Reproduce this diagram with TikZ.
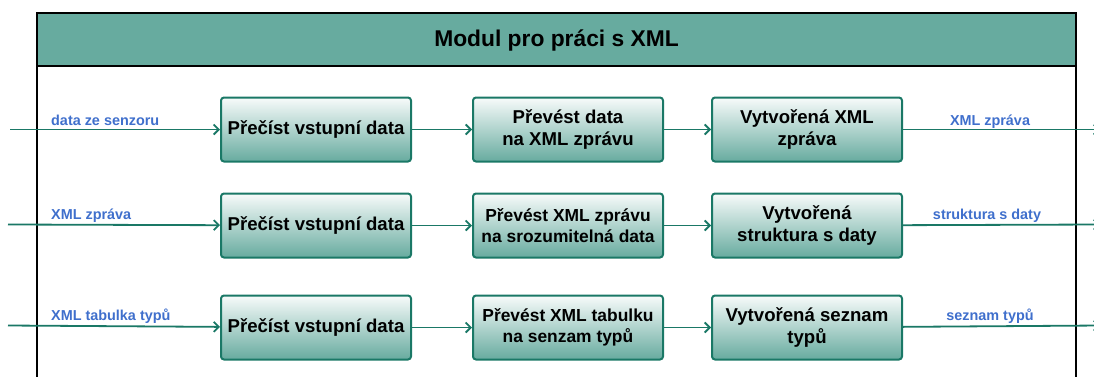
\documentclass[tikz,border=0pt]{standalone}
\usepackage{fontspec}
\setmainfont{Liberation Sans}
\usepackage{tikz}
\usetikzlibrary{arrows.meta, positioning}

\definecolor{modteal}{HTML}{67AB9F}
\definecolor{linegreen}{HTML}{1A7866}
\definecolor{labelblue}{HTML}{3F6FCC}

\begin{document}
\begin{tikzpicture}[
  x=1pt, y=-1pt,
  stepbox/.style = {draw=linegreen, line width=2pt, rounded corners=3pt,
    top color=white!95!modteal, bottom color=modteal,
    minimum width=190pt, minimum height=64pt, align=center,
    font=\fontsize{18.6}{22}\selectfont\bfseries},
  smalltext/.style = {font=\fontsize{17.4}{20.5}\selectfont\bfseries},
  flow/.style = {draw=linegreen, line width=1.8pt, -{Straight Barb[length=5pt,width=10pt]}},
  flowlabel/.style = {text=labelblue, font=\fontsize{14.4}{17}\selectfont\bfseries, inner sep=0pt},
  node distance=30pt and 60pt
]
  \useasboundingbox (0,0) rectangle (1094,376);

  % module frame with its title
  \filldraw[fill=modteal, draw=black, line width=1.8pt] (37,13) rectangle (1076,66);
  \draw[black, line width=1.8pt] (37,66) -- (37,385) (1076,66) -- (1076,385);
  \node[font=\fontsize{22.8}{26}\selectfont\bfseries] (title) at (556.5,40) {Modul pro práci s XML};

  % row 1
  \node[stepbox] (read1) at (316,129.5) {Přečíst vstupní data};
  \node[stepbox, right=60pt of read1] (conv1) {Převést data\\na XML zprávu};
  \node[stepbox, right=47pt of conv1] (out1) {Vytvořená XML\\zpráva};

  % row 2
  \node[stepbox, below=30pt of read1] (read2) {Přečíst vstupní data};
  \node[stepbox, smalltext, right=60pt of read2] (conv2) {Převést XML zprávu\\na srozumitelná data};
  \node[stepbox, right=47pt of conv2] (out2) {Vytvořená\\struktura s daty};

  % row 3
  \node[stepbox, below=36pt of read2] (read3) {Přečíst vstupní data};
  \node[stepbox, smalltext, right=60pt of read3] (conv3) {Převést XML tabulku\\na senzam typů};
  \node[stepbox, right=47pt of conv3] (out3) {Vytvořená seznam\\typů};

  % free ends of the connectors
  \coordinate (in1) at (10,129.5);
  \coordinate (in2) at (8,224.5);
  \coordinate (in3) at (8,325.5);
  \coordinate (end1) at (1100,129.5);
  \coordinate (end2) at (1100,224.5);
  \coordinate (end3) at (1100,325.5);

  \foreach \r in {1,2,3} {
    \draw[flow] (in\r) -- (read\r);
    \draw[flow] (read\r) -- (conv\r);
    \draw[flow] (conv\r) -- (out\r);
    \draw[flow] (out\r) -- (end\r);
  }

  % labels on the connectors
  \node[flowlabel, anchor=base west] (lin1) at (51,125) {data ze senzoru};
  \node[flowlabel, anchor=base west] (lin2) at (51,219) {XML zpráva};
  \node[flowlabel, anchor=base west] (lin3) at (51,320) {XML tabulka typů};
  \node[flowlabel, anchor=base] (lout1) at (990,125) {XML zpráva};
  \node[flowlabel, anchor=base] (lout2) at (987,219) {struktura s daty};
  \node[flowlabel, anchor=base] (lout3) at (990,320) {seznam typů};

\end{tikzpicture}
\end{document}
